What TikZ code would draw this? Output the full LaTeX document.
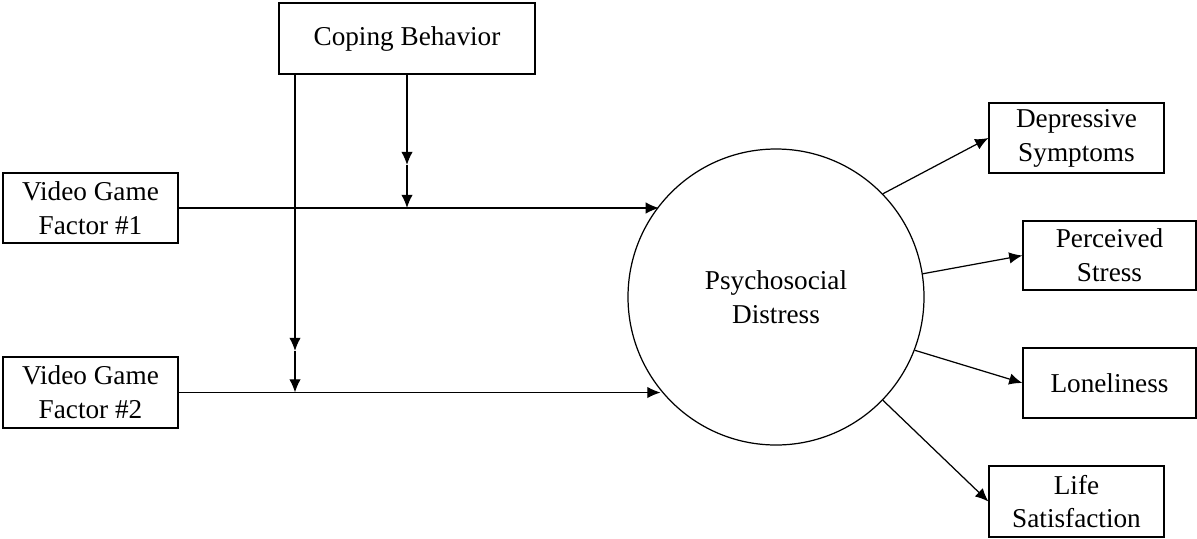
\documentclass[tikz,border=0pt]{standalone}
\usepackage{fontspec}
\setmainfont{Liberation Serif}
\usetikzlibrary{arrows.meta}
\begin{document}
\begin{tikzpicture}[x=0.02cm,y=-0.02cm,
  box/.style={draw,line width=0.7pt,inner sep=0pt,align=center,
    font=\fontsize{15.5}{19.3}\selectfont},
  arr/.style={line width=0.7pt,-{Latex[length=7.5pt,width=6.5pt]}},
  ln/.style={line width=0.7pt}]
\useasboundingbox (0,0) rectangle (1197,538);
\node[box,minimum width=256*0.02cm,minimum height=71*0.02cm] (cb) at (407,38.5) {Coping Behavior};
\node[box,minimum width=175*0.02cm,minimum height=70*0.02cm] (v1) at (90.5,208) {Video Game\\Factor \#1};
\node[box,minimum width=175*0.02cm,minimum height=71*0.02cm] (v2) at (90.5,392.5) {Video Game\\Factor \#2};
\node[box,circle,minimum size=296*0.02cm] (pd) at (776,297) {Psychosocial\\Distress};
\node[box,minimum width=175*0.02cm,minimum height=70*0.02cm] (dep) at (1076.5,138) {Depressive\\Symptoms};
\node[box,minimum width=173*0.02cm,minimum height=69*0.02cm] (ps) at (1109.5,255.5) {Perceived\\Stress};
\node[box,minimum width=173*0.02cm,minimum height=70*0.02cm] (lon) at (1109.5,383) {Loneliness};
\node[box,minimum width=175*0.02cm,minimum height=71*0.02cm] (life) at (1076.5,501.5) {Life\\Satisfaction};
% moderator junctions
\coordinate (m1) at (407,165);
\coordinate (j1) at (407,208);
\coordinate (m2) at (295,351);
\coordinate (j2) at (295,392.5);
\draw[arr] (cb.south) -- (m1);
\draw[arr] (m1) -- (j1);
\draw[arr] (cb.south -| m2) -- (m2);
\draw[arr] (m2) -- (j2);
% predictors to distress
\draw[arr] (v1.east) -- (v1.east -| pd.142.5);
\draw[arr] (v2.east) -- (v2.east -| pd.219.5);
% outcomes
\draw[arr] (pd.44.5) -- (dep.west);
\draw[arr] (pd.9.6) -- (ps.west);
\draw[arr] (pd.-21.6) -- (lon.west);
\draw[arr] (pd.-44.5) -- (life.west);
\end{tikzpicture}
\end{document}
